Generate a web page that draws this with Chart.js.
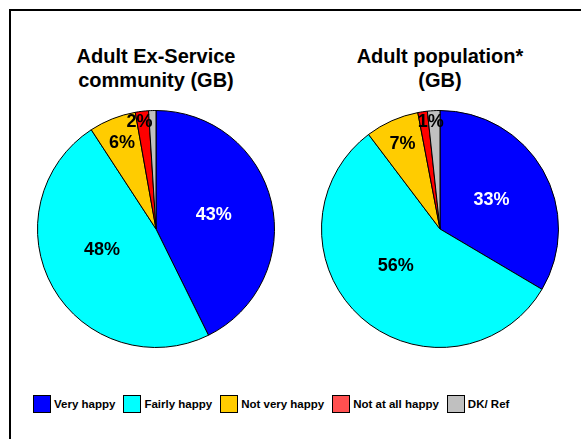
<!DOCTYPE html>
<html>
<head>
<meta charset="utf-8">
<script src="https://cdn.jsdelivr.net/npm/chart.js@4.4.1/dist/chart.umd.min.js"></script>
<style>
  html, body { margin: 0; padding: 0; background: #fff; width: 581px; height: 439px; overflow: hidden; }
  body { position: relative; font-family: "Liberation Sans", Arial, sans-serif; }
  #frame { position: absolute; left: 9px; top: 9px; width: 620px; height: 520px; border: 2px solid #000; box-sizing: border-box; }
  .title { position: absolute; width: 240px; text-align: center; font-weight: bold; font-size: 20px; line-height: 24px; color: #000; }
  .pie { position: absolute; width: 238px; height: 238px; }
  #legend { position: absolute; left: 33px; top: 395px; height: 18px; display: flex; align-items: center; font-weight: bold; font-size: 11.5px; color: #000; white-space: nowrap; }
  .item { display: flex; align-items: center; margin-right: 8px; }
  .box { width: 16px; height: 16px; border: 1px solid #000; margin-right: 3px; }
</style>
</head>
<body>
<div id="frame"></div>
<div class="title" id="t1" style="left:36px; top:44px;"></div>
<div class="title" id="t2" style="left:320px; top:44px;"></div>
<div class="pie" style="left:37px; top:110px;"><canvas id="c1" width="238" height="238"></canvas></div>
<div class="pie" style="left:321px; top:110px;"><canvas id="c2" width="238" height="238"></canvas></div>
<div id="legend"></div>
<script>
const categories = ['Very happy', 'Fairly happy', 'Not very happy', 'Not at all happy', 'DK/ Ref'];
const sliceColors = ['#0000FF', '#00FFFF', '#FFCC00', '#FF0000', '#C0C0C0'];
const legendColors = ['#0000FF', '#00FFFF', '#FFCC00', '#FF5050', '#C0C0C0'];
const labelColors = ['#FFFFFF', '#000000', '#000000', '#000000', '#000000'];
const exServiceTitle = ['Adult Ex-Service', 'community (GB)'];
const populationTitle = ['Adult population*', '(GB)'];
const exServiceValues = [42.7, 48.1, 6.4, 1.8, 1.0];
const populationValues = [33.5, 56.2, 7.3, 1.3, 1.7];
const exServiceLabels = ['43%', '48%', '6%', '2%', ''];
const populationLabels = ['33%', '56%', '7%', '1%', ''];
const labelRadius = [0.5, 0.49, 0.78, 0.91, 0.9];

document.getElementById('t1').innerHTML = exServiceTitle.join('<br>');
document.getElementById('t2').innerHTML = populationTitle.join('<br>');

const legend = document.getElementById('legend');
categories.forEach((c, i) => {
  const it = document.createElement('div');
  it.className = 'item';
  const b = document.createElement('div');
  b.className = 'box';
  b.style.background = legendColors[i];
  const t = document.createElement('span');
  t.textContent = c;
  it.appendChild(b); it.appendChild(t);
  legend.appendChild(it);
});

const pctLabels = {
  id: 'pctLabels',
  afterDatasetsDraw(chart, args, opts) {
    const ctx = chart.ctx;
    const meta = chart.getDatasetMeta(0);
    ctx.save();
    ctx.font = 'bold 18px "Liberation Sans", Arial, sans-serif';
    ctx.textAlign = 'center';
    ctx.textBaseline = 'middle';
    meta.data.forEach((arc, i) => {
      const txt = opts.labels[i];
      if (!txt) return;
      const p = arc.getProps(['x', 'y', 'startAngle', 'endAngle', 'outerRadius'], true);
      const mid = (p.startAngle + p.endAngle) / 2 + opts.shift[i] * Math.PI / 180;
      const r = p.outerRadius * labelRadius[i];
      ctx.fillStyle = labelColors[i];
      ctx.fillText(txt, p.x + Math.cos(mid) * r, p.y + Math.sin(mid) * r);
    });
    ctx.restore();
  }
};

function makePie(id, values, labels, shift) {
  return new Chart(document.getElementById(id), {
    type: 'pie',
    data: {
      labels: categories,
      datasets: [{
        data: values,
        backgroundColor: sliceColors,
        borderColor: '#000',
        borderWidth: 1,
        hoverOffset: 0,
        offset: 0
      }]
    },
    options: {
      responsive: false,
      animation: false,
      events: [],
      layout: { padding: 0 },
      plugins: {
        legend: { display: false },
        tooltip: { enabled: false },
        title: { display: false },
        pctLabels: { labels: labels, shift: shift }
      }
    },
    plugins: [pctLabels]
  });
}

makePie('c1', exServiceValues, exServiceLabels, [0, 8, 0, -2, 0]);
makePie('c2', populationValues, populationLabels, [0, 8, 0, 3.5, 0]);
</script>
</body>
</html>
